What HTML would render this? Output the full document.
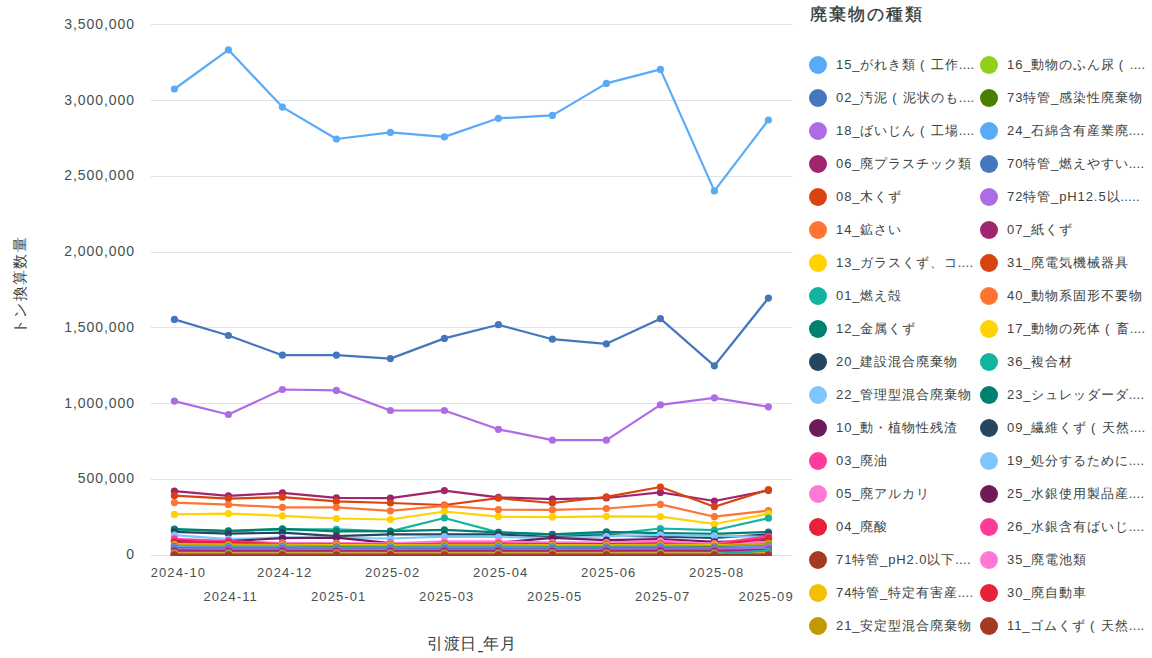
<!DOCTYPE html>
<html lang="ja"><head><meta charset="utf-8"><title>chart</title><style>
html,body{margin:0;padding:0;background:#fff;}
body{width:1152px;height:658px;overflow:hidden;position:relative;font-family:"Liberation Sans",sans-serif;color:#37403f;}
.yl{position:absolute;left:0;color:#474f4e;width:135.1px;text-align:right;font-size:14px;letter-spacing:0.95px;line-height:16px;white-space:nowrap;}
.xl{position:absolute;color:#474f4e;width:80px;text-align:center;font-size:13px;letter-spacing:1.1px;line-height:15px;white-space:nowrap;}
.lg{position:absolute;height:20px;white-space:nowrap;font-size:13px;line-height:20px;color:#3a4342;}
.lg i{position:absolute;left:0;top:1px;width:18px;height:18px;border-radius:50%;}
.lg span{position:absolute;left:27px;top:0;letter-spacing:0.9px;}
.lg b{display:inline-block;width:15px;font-weight:normal;text-indent:4px;}
.lg u{text-decoration:none;letter-spacing:0.3px;}
</style></head><body>
<svg width="1152" height="658" viewBox="0 0 1152 658" style="position:absolute;left:0;top:0">
<line x1="150.5" x2="792.5" y1="24.5" y2="24.5" stroke="#dfe6e7" stroke-width="1"/>
<line x1="150.5" x2="792.5" y1="100.5" y2="100.5" stroke="#dfe6e7" stroke-width="1"/>
<line x1="150.5" x2="792.5" y1="176.5" y2="176.5" stroke="#dfe6e7" stroke-width="1"/>
<line x1="150.5" x2="792.5" y1="252.5" y2="252.5" stroke="#dfe6e7" stroke-width="1"/>
<line x1="150.5" x2="792.5" y1="327.5" y2="327.5" stroke="#dfe6e7" stroke-width="1"/>
<line x1="150.5" x2="792.5" y1="403.5" y2="403.5" stroke="#dfe6e7" stroke-width="1"/>
<line x1="150.5" x2="792.5" y1="479.5" y2="479.5" stroke="#dfe6e7" stroke-width="1"/>
<line x1="150.5" x2="792.5" y1="555.5" y2="555.5" stroke="#dfe6e7" stroke-width="1"/>
<defs><clipPath id="cp"><rect x="140" y="0" width="670" height="556"/></clipPath></defs><g clip-path="url(#cp)">
<polyline points="174.4,89.0 228.4,49.8 282.4,107.1 336.4,139.0 390.4,132.4 444.4,136.9 498.4,118.3 552.4,115.4 606.4,83.4 660.4,69.4 714.4,190.9 768.4,120.0" fill="none" stroke="#59aaf7" stroke-width="2.2" stroke-linejoin="round"/><g fill="#59aaf7"><circle cx="174.4" cy="89.0" r="3.6"/><circle cx="228.4" cy="49.8" r="3.6"/><circle cx="282.4" cy="107.1" r="3.6"/><circle cx="336.4" cy="139.0" r="3.6"/><circle cx="390.4" cy="132.4" r="3.6"/><circle cx="444.4" cy="136.9" r="3.6"/><circle cx="498.4" cy="118.3" r="3.6"/><circle cx="552.4" cy="115.4" r="3.6"/><circle cx="606.4" cy="83.4" r="3.6"/><circle cx="660.4" cy="69.4" r="3.6"/><circle cx="714.4" cy="190.9" r="3.6"/><circle cx="768.4" cy="120.0" r="3.6"/></g>
<polyline points="174.4,319.4 228.4,335.5 282.4,355.2 336.4,355.2 390.4,358.6 444.4,338.4 498.4,324.7 552.4,339.2 606.4,343.8 660.4,318.7 714.4,365.8 768.4,298.1" fill="none" stroke="#4577be" stroke-width="2.2" stroke-linejoin="round"/><g fill="#4577be"><circle cx="174.4" cy="319.4" r="3.6"/><circle cx="228.4" cy="335.5" r="3.6"/><circle cx="282.4" cy="355.2" r="3.6"/><circle cx="336.4" cy="355.2" r="3.6"/><circle cx="390.4" cy="358.6" r="3.6"/><circle cx="444.4" cy="338.4" r="3.6"/><circle cx="498.4" cy="324.7" r="3.6"/><circle cx="552.4" cy="339.2" r="3.6"/><circle cx="606.4" cy="343.8" r="3.6"/><circle cx="660.4" cy="318.7" r="3.6"/><circle cx="714.4" cy="365.8" r="3.6"/><circle cx="768.4" cy="298.1" r="3.6"/></g>
<polyline points="174.4,401.1 228.4,414.5 282.4,389.5 336.4,390.4 390.4,410.5 444.4,410.5 498.4,429.3 552.4,440.2 606.4,440.2 660.4,404.8 714.4,397.8 768.4,406.8" fill="none" stroke="#ae6be6" stroke-width="2.2" stroke-linejoin="round"/><g fill="#ae6be6"><circle cx="174.4" cy="401.1" r="3.6"/><circle cx="228.4" cy="414.5" r="3.6"/><circle cx="282.4" cy="389.5" r="3.6"/><circle cx="336.4" cy="390.4" r="3.6"/><circle cx="390.4" cy="410.5" r="3.6"/><circle cx="444.4" cy="410.5" r="3.6"/><circle cx="498.4" cy="429.3" r="3.6"/><circle cx="552.4" cy="440.2" r="3.6"/><circle cx="606.4" cy="440.2" r="3.6"/><circle cx="660.4" cy="404.8" r="3.6"/><circle cx="714.4" cy="397.8" r="3.6"/><circle cx="768.4" cy="406.8" r="3.6"/></g>
<polyline points="174.4,491.2 228.4,495.9 282.4,492.9 336.4,497.8 390.4,498.2 444.4,490.7 498.4,497.4 552.4,499.2 606.4,498.0 660.4,492.4 714.4,501.0 768.4,490.5" fill="none" stroke="#a0246e" stroke-width="2.2" stroke-linejoin="round"/><g fill="#a0246e"><circle cx="174.4" cy="491.2" r="3.6"/><circle cx="228.4" cy="495.9" r="3.6"/><circle cx="282.4" cy="492.9" r="3.6"/><circle cx="336.4" cy="497.8" r="3.6"/><circle cx="390.4" cy="498.2" r="3.6"/><circle cx="444.4" cy="490.7" r="3.6"/><circle cx="498.4" cy="497.4" r="3.6"/><circle cx="552.4" cy="499.2" r="3.6"/><circle cx="606.4" cy="498.0" r="3.6"/><circle cx="660.4" cy="492.4" r="3.6"/><circle cx="714.4" cy="501.0" r="3.6"/><circle cx="768.4" cy="490.5" r="3.6"/></g>
<polyline points="174.4,495.7 228.4,498.6 282.4,497.2 336.4,501.4 390.4,503.0 444.4,505.0 498.4,498.2 552.4,503.0 606.4,496.9 660.4,487.0 714.4,506.7 768.4,489.6" fill="none" stroke="#d9430f" stroke-width="2.2" stroke-linejoin="round"/><g fill="#d9430f"><circle cx="174.4" cy="495.7" r="3.6"/><circle cx="228.4" cy="498.6" r="3.6"/><circle cx="282.4" cy="497.2" r="3.6"/><circle cx="336.4" cy="501.4" r="3.6"/><circle cx="390.4" cy="503.0" r="3.6"/><circle cx="444.4" cy="505.0" r="3.6"/><circle cx="498.4" cy="498.2" r="3.6"/><circle cx="552.4" cy="503.0" r="3.6"/><circle cx="606.4" cy="496.9" r="3.6"/><circle cx="660.4" cy="487.0" r="3.6"/><circle cx="714.4" cy="506.7" r="3.6"/><circle cx="768.4" cy="489.6" r="3.6"/></g>
<polyline points="174.4,502.6 228.4,504.7 282.4,507.3 336.4,507.4 390.4,510.8 444.4,505.8 498.4,509.7 552.4,509.9 606.4,508.5 660.4,504.4 714.4,516.7 768.4,510.6" fill="none" stroke="#ff7433" stroke-width="2.2" stroke-linejoin="round"/><g fill="#ff7433"><circle cx="174.4" cy="502.6" r="3.6"/><circle cx="228.4" cy="504.7" r="3.6"/><circle cx="282.4" cy="507.3" r="3.6"/><circle cx="336.4" cy="507.4" r="3.6"/><circle cx="390.4" cy="510.8" r="3.6"/><circle cx="444.4" cy="505.8" r="3.6"/><circle cx="498.4" cy="509.7" r="3.6"/><circle cx="552.4" cy="509.9" r="3.6"/><circle cx="606.4" cy="508.5" r="3.6"/><circle cx="660.4" cy="504.4" r="3.6"/><circle cx="714.4" cy="516.7" r="3.6"/><circle cx="768.4" cy="510.6" r="3.6"/></g>
<polyline points="174.4,514.4 228.4,513.6 282.4,515.8 336.4,518.5 390.4,519.5 444.4,511.5 498.4,516.7 552.4,517.1 606.4,516.3 660.4,516.7 714.4,524.0 768.4,513.7" fill="none" stroke="#ffd200" stroke-width="2.2" stroke-linejoin="round"/><g fill="#ffd200"><circle cx="174.4" cy="514.4" r="3.6"/><circle cx="228.4" cy="513.6" r="3.6"/><circle cx="282.4" cy="515.8" r="3.6"/><circle cx="336.4" cy="518.5" r="3.6"/><circle cx="390.4" cy="519.5" r="3.6"/><circle cx="444.4" cy="511.5" r="3.6"/><circle cx="498.4" cy="516.7" r="3.6"/><circle cx="552.4" cy="517.1" r="3.6"/><circle cx="606.4" cy="516.3" r="3.6"/><circle cx="660.4" cy="516.7" r="3.6"/><circle cx="714.4" cy="524.0" r="3.6"/><circle cx="768.4" cy="513.7" r="3.6"/></g>
<polyline points="174.4,529.6 228.4,531.4 282.4,529.4 336.4,529.4 390.4,531.4 444.4,518.0 498.4,532.4 552.4,534.3 606.4,534.4 660.4,528.5 714.4,530.2 768.4,518.2" fill="none" stroke="#12b4a0" stroke-width="2.2" stroke-linejoin="round"/><g fill="#12b4a0"><circle cx="174.4" cy="529.6" r="3.6"/><circle cx="228.4" cy="531.4" r="3.6"/><circle cx="282.4" cy="529.4" r="3.6"/><circle cx="336.4" cy="529.4" r="3.6"/><circle cx="390.4" cy="531.4" r="3.6"/><circle cx="444.4" cy="518.0" r="3.6"/><circle cx="498.4" cy="532.4" r="3.6"/><circle cx="552.4" cy="534.3" r="3.6"/><circle cx="606.4" cy="534.4" r="3.6"/><circle cx="660.4" cy="528.5" r="3.6"/><circle cx="714.4" cy="530.2" r="3.6"/><circle cx="768.4" cy="518.2" r="3.6"/></g>
<polyline points="174.4,529.0 228.4,530.9 282.4,528.8 336.4,531.4 390.4,531.2 444.4,529.9 498.4,532.3 552.4,534.4 606.4,531.8 660.4,533.1 714.4,533.8 768.4,532.0" fill="none" stroke="#00806e" stroke-width="2.2" stroke-linejoin="round"/><g fill="#00806e"><circle cx="174.4" cy="529.0" r="3.6"/><circle cx="228.4" cy="530.9" r="3.6"/><circle cx="282.4" cy="528.8" r="3.6"/><circle cx="336.4" cy="531.4" r="3.6"/><circle cx="390.4" cy="531.2" r="3.6"/><circle cx="444.4" cy="529.9" r="3.6"/><circle cx="498.4" cy="532.3" r="3.6"/><circle cx="552.4" cy="534.4" r="3.6"/><circle cx="606.4" cy="531.8" r="3.6"/><circle cx="660.4" cy="533.1" r="3.6"/><circle cx="714.4" cy="533.8" r="3.6"/><circle cx="768.4" cy="532.0" r="3.6"/></g>
<polyline points="174.4,531.8 228.4,533.7 282.4,532.7 336.4,536.1 390.4,534.3 444.4,534.4 498.4,534.4 552.4,537.1 606.4,535.4 660.4,536.6 714.4,538.0 768.4,534.4" fill="none" stroke="#254660" stroke-width="2.2" stroke-linejoin="round"/><g fill="#254660"><circle cx="174.4" cy="531.8" r="3.6"/><circle cx="228.4" cy="533.7" r="3.6"/><circle cx="282.4" cy="532.7" r="3.6"/><circle cx="336.4" cy="536.1" r="3.6"/><circle cx="390.4" cy="534.3" r="3.6"/><circle cx="444.4" cy="534.4" r="3.6"/><circle cx="498.4" cy="534.4" r="3.6"/><circle cx="552.4" cy="537.1" r="3.6"/><circle cx="606.4" cy="535.4" r="3.6"/><circle cx="660.4" cy="536.6" r="3.6"/><circle cx="714.4" cy="538.0" r="3.6"/><circle cx="768.4" cy="534.4" r="3.6"/></g>
<polyline points="174.4,535.2 228.4,539.2 282.4,537.4 336.4,537.8 390.4,538.5 444.4,536.6 498.4,537.0 552.4,538.2 606.4,536.4 660.4,534.9 714.4,535.8 768.4,537.0" fill="none" stroke="#7fc6ff" stroke-width="2.2" stroke-linejoin="round"/><g fill="#7fc6ff"><circle cx="174.4" cy="535.2" r="3.6"/><circle cx="228.4" cy="539.2" r="3.6"/><circle cx="282.4" cy="537.4" r="3.6"/><circle cx="336.4" cy="537.8" r="3.6"/><circle cx="390.4" cy="538.5" r="3.6"/><circle cx="444.4" cy="536.6" r="3.6"/><circle cx="498.4" cy="537.0" r="3.6"/><circle cx="552.4" cy="538.2" r="3.6"/><circle cx="606.4" cy="536.4" r="3.6"/><circle cx="660.4" cy="534.9" r="3.6"/><circle cx="714.4" cy="535.8" r="3.6"/><circle cx="768.4" cy="537.0" r="3.6"/></g>
<polyline points="174.4,540.8 228.4,541.2 282.4,538.1 336.4,537.7 390.4,543.2 444.4,543.2 498.4,542.8 552.4,537.8 606.4,540.2 660.4,539.1 714.4,541.9 768.4,541.0" fill="none" stroke="#6e1b58" stroke-width="2.2" stroke-linejoin="round"/><g fill="#6e1b58"><circle cx="174.4" cy="540.8" r="3.6"/><circle cx="228.4" cy="541.2" r="3.6"/><circle cx="282.4" cy="538.1" r="3.6"/><circle cx="336.4" cy="537.7" r="3.6"/><circle cx="390.4" cy="543.2" r="3.6"/><circle cx="444.4" cy="543.2" r="3.6"/><circle cx="498.4" cy="542.8" r="3.6"/><circle cx="552.4" cy="537.8" r="3.6"/><circle cx="606.4" cy="540.2" r="3.6"/><circle cx="660.4" cy="539.1" r="3.6"/><circle cx="714.4" cy="541.9" r="3.6"/><circle cx="768.4" cy="541.0" r="3.6"/></g>
<polyline points="174.4,538.8 228.4,541.1 282.4,543.4 336.4,544.4 390.4,543.8 444.4,543.2 498.4,542.3 552.4,542.8 606.4,542.8 660.4,541.8 714.4,543.6 768.4,536.3" fill="none" stroke="#ff3b9a" stroke-width="2.2" stroke-linejoin="round"/><g fill="#ff3b9a"><circle cx="174.4" cy="538.8" r="3.6"/><circle cx="228.4" cy="541.1" r="3.6"/><circle cx="282.4" cy="543.4" r="3.6"/><circle cx="336.4" cy="544.4" r="3.6"/><circle cx="390.4" cy="543.8" r="3.6"/><circle cx="444.4" cy="543.2" r="3.6"/><circle cx="498.4" cy="542.3" r="3.6"/><circle cx="552.4" cy="542.8" r="3.6"/><circle cx="606.4" cy="542.8" r="3.6"/><circle cx="660.4" cy="541.8" r="3.6"/><circle cx="714.4" cy="543.6" r="3.6"/><circle cx="768.4" cy="536.3" r="3.6"/></g>
<polyline points="174.4,543.0 228.4,543.0 282.4,542.8 336.4,543.2 390.4,543.4 444.4,541.4 498.4,541.4 552.4,542.6 606.4,542.6 660.4,540.8 714.4,543.8 768.4,541.8" fill="none" stroke="#ff78d6" stroke-width="2.2" stroke-linejoin="round"/><g fill="#ff78d6"><circle cx="174.4" cy="543.0" r="3.6"/><circle cx="228.4" cy="543.0" r="3.6"/><circle cx="282.4" cy="542.8" r="3.6"/><circle cx="336.4" cy="543.2" r="3.6"/><circle cx="390.4" cy="543.4" r="3.6"/><circle cx="444.4" cy="541.4" r="3.6"/><circle cx="498.4" cy="541.4" r="3.6"/><circle cx="552.4" cy="542.6" r="3.6"/><circle cx="606.4" cy="542.6" r="3.6"/><circle cx="660.4" cy="540.8" r="3.6"/><circle cx="714.4" cy="543.8" r="3.6"/><circle cx="768.4" cy="541.8" r="3.6"/></g>
<polyline points="174.4,541.9 228.4,542.3 282.4,544.0 336.4,544.4 390.4,544.6 444.4,543.8 498.4,543.8 552.4,544.2 606.4,544.2 660.4,543.8 714.4,545.2 768.4,538.4" fill="none" stroke="#e8213a" stroke-width="2.2" stroke-linejoin="round"/><g fill="#e8213a"><circle cx="174.4" cy="541.9" r="3.6"/><circle cx="228.4" cy="542.3" r="3.6"/><circle cx="282.4" cy="544.0" r="3.6"/><circle cx="336.4" cy="544.4" r="3.6"/><circle cx="390.4" cy="544.6" r="3.6"/><circle cx="444.4" cy="543.8" r="3.6"/><circle cx="498.4" cy="543.8" r="3.6"/><circle cx="552.4" cy="544.2" r="3.6"/><circle cx="606.4" cy="544.2" r="3.6"/><circle cx="660.4" cy="543.8" r="3.6"/><circle cx="714.4" cy="545.2" r="3.6"/><circle cx="768.4" cy="538.4" r="3.6"/></g>
<polyline points="174.4,554.0 228.4,554.0 282.4,554.0 336.4,554.0 390.4,554.0 444.4,554.0 498.4,554.0 552.4,554.0 606.4,554.0 660.4,554.0 714.4,554.0 768.4,554.0" fill="none" stroke="#a33a24" stroke-width="2.2" stroke-linejoin="round"/><g fill="#a33a24"><circle cx="174.4" cy="554.0" r="3.6"/><circle cx="228.4" cy="554.0" r="3.6"/><circle cx="282.4" cy="554.0" r="3.6"/><circle cx="336.4" cy="554.0" r="3.6"/><circle cx="390.4" cy="554.0" r="3.6"/><circle cx="444.4" cy="554.0" r="3.6"/><circle cx="498.4" cy="554.0" r="3.6"/><circle cx="552.4" cy="554.0" r="3.6"/><circle cx="606.4" cy="554.0" r="3.6"/><circle cx="660.4" cy="554.0" r="3.6"/><circle cx="714.4" cy="554.0" r="3.6"/><circle cx="768.4" cy="554.0" r="3.6"/></g>
<polyline points="174.4,544.6 228.4,544.8 282.4,544.8 336.4,545.2 390.4,545.0 444.4,544.8 498.4,544.8 552.4,545.0 606.4,545.0 660.4,544.8 714.4,545.2 768.4,543.6" fill="none" stroke="#f2c000" stroke-width="2.2" stroke-linejoin="round"/><g fill="#f2c000"><circle cx="174.4" cy="544.6" r="3.6"/><circle cx="228.4" cy="544.8" r="3.6"/><circle cx="282.4" cy="544.8" r="3.6"/><circle cx="336.4" cy="545.2" r="3.6"/><circle cx="390.4" cy="545.0" r="3.6"/><circle cx="444.4" cy="544.8" r="3.6"/><circle cx="498.4" cy="544.8" r="3.6"/><circle cx="552.4" cy="545.0" r="3.6"/><circle cx="606.4" cy="545.0" r="3.6"/><circle cx="660.4" cy="544.8" r="3.6"/><circle cx="714.4" cy="545.2" r="3.6"/><circle cx="768.4" cy="543.6" r="3.6"/></g>
<polyline points="174.4,545.4 228.4,545.6 282.4,545.6 336.4,546.0 390.4,545.8 444.4,545.6 498.4,545.6 552.4,545.8 606.4,545.8 660.4,545.6 714.4,546.0 768.4,543.8" fill="none" stroke="#c29a00" stroke-width="2.2" stroke-linejoin="round"/><g fill="#c29a00"><circle cx="174.4" cy="545.4" r="3.6"/><circle cx="228.4" cy="545.6" r="3.6"/><circle cx="282.4" cy="545.6" r="3.6"/><circle cx="336.4" cy="546.0" r="3.6"/><circle cx="390.4" cy="545.8" r="3.6"/><circle cx="444.4" cy="545.6" r="3.6"/><circle cx="498.4" cy="545.6" r="3.6"/><circle cx="552.4" cy="545.8" r="3.6"/><circle cx="606.4" cy="545.8" r="3.6"/><circle cx="660.4" cy="545.6" r="3.6"/><circle cx="714.4" cy="546.0" r="3.6"/><circle cx="768.4" cy="543.8" r="3.6"/></g>
<polyline points="174.4,546.0 228.4,546.2 282.4,546.2 336.4,546.6 390.4,546.4 444.4,546.2 498.4,546.2 552.4,546.4 606.4,546.4 660.4,546.2 714.4,546.6 768.4,545.6" fill="none" stroke="#8fd11a" stroke-width="2.2" stroke-linejoin="round"/><g fill="#8fd11a"><circle cx="174.4" cy="546.0" r="3.6"/><circle cx="228.4" cy="546.2" r="3.6"/><circle cx="282.4" cy="546.2" r="3.6"/><circle cx="336.4" cy="546.6" r="3.6"/><circle cx="390.4" cy="546.4" r="3.6"/><circle cx="444.4" cy="546.2" r="3.6"/><circle cx="498.4" cy="546.2" r="3.6"/><circle cx="552.4" cy="546.4" r="3.6"/><circle cx="606.4" cy="546.4" r="3.6"/><circle cx="660.4" cy="546.2" r="3.6"/><circle cx="714.4" cy="546.6" r="3.6"/><circle cx="768.4" cy="545.6" r="3.6"/></g>
<polyline points="174.4,546.6 228.4,546.8 282.4,546.8 336.4,547.2 390.4,547.0 444.4,546.8 498.4,546.8 552.4,547.0 606.4,547.0 660.4,546.8 714.4,547.2 768.4,546.2" fill="none" stroke="#4a7e00" stroke-width="2.2" stroke-linejoin="round"/><g fill="#4a7e00"><circle cx="174.4" cy="546.6" r="3.6"/><circle cx="228.4" cy="546.8" r="3.6"/><circle cx="282.4" cy="546.8" r="3.6"/><circle cx="336.4" cy="547.2" r="3.6"/><circle cx="390.4" cy="547.0" r="3.6"/><circle cx="444.4" cy="546.8" r="3.6"/><circle cx="498.4" cy="546.8" r="3.6"/><circle cx="552.4" cy="547.0" r="3.6"/><circle cx="606.4" cy="547.0" r="3.6"/><circle cx="660.4" cy="546.8" r="3.6"/><circle cx="714.4" cy="547.2" r="3.6"/><circle cx="768.4" cy="546.2" r="3.6"/></g>
<polyline points="174.4,547.2 228.4,547.4 282.4,547.4 336.4,547.8 390.4,547.6 444.4,547.4 498.4,547.4 552.4,547.6 606.4,547.6 660.4,547.4 714.4,547.8 768.4,546.6" fill="none" stroke="#59aaf7" stroke-width="2.2" stroke-linejoin="round"/><g fill="#59aaf7"><circle cx="174.4" cy="547.2" r="3.6"/><circle cx="228.4" cy="547.4" r="3.6"/><circle cx="282.4" cy="547.4" r="3.6"/><circle cx="336.4" cy="547.8" r="3.6"/><circle cx="390.4" cy="547.6" r="3.6"/><circle cx="444.4" cy="547.4" r="3.6"/><circle cx="498.4" cy="547.4" r="3.6"/><circle cx="552.4" cy="547.6" r="3.6"/><circle cx="606.4" cy="547.6" r="3.6"/><circle cx="660.4" cy="547.4" r="3.6"/><circle cx="714.4" cy="547.8" r="3.6"/><circle cx="768.4" cy="546.6" r="3.6"/></g>
<polyline points="174.4,548.2 228.4,548.4 282.4,548.4 336.4,548.8 390.4,548.6 444.4,548.6 498.4,548.6 552.4,548.6 606.4,548.4 660.4,548.2 714.4,548.6 768.4,547.4" fill="none" stroke="#4577be" stroke-width="2.2" stroke-linejoin="round"/><g fill="#4577be"><circle cx="174.4" cy="548.2" r="3.6"/><circle cx="228.4" cy="548.4" r="3.6"/><circle cx="282.4" cy="548.4" r="3.6"/><circle cx="336.4" cy="548.8" r="3.6"/><circle cx="390.4" cy="548.6" r="3.6"/><circle cx="444.4" cy="548.6" r="3.6"/><circle cx="498.4" cy="548.6" r="3.6"/><circle cx="552.4" cy="548.6" r="3.6"/><circle cx="606.4" cy="548.4" r="3.6"/><circle cx="660.4" cy="548.2" r="3.6"/><circle cx="714.4" cy="548.6" r="3.6"/><circle cx="768.4" cy="547.4" r="3.6"/></g>
<polyline points="174.4,549.4 228.4,549.6 282.4,549.6 336.4,549.8 390.4,549.8 444.4,549.8 498.4,549.8 552.4,549.8 606.4,549.6 660.4,549.4 714.4,549.6 768.4,547.1" fill="none" stroke="#ae6be6" stroke-width="2.2" stroke-linejoin="round"/><g fill="#ae6be6"><circle cx="174.4" cy="549.4" r="3.6"/><circle cx="228.4" cy="549.6" r="3.6"/><circle cx="282.4" cy="549.6" r="3.6"/><circle cx="336.4" cy="549.8" r="3.6"/><circle cx="390.4" cy="549.8" r="3.6"/><circle cx="444.4" cy="549.8" r="3.6"/><circle cx="498.4" cy="549.8" r="3.6"/><circle cx="552.4" cy="549.8" r="3.6"/><circle cx="606.4" cy="549.6" r="3.6"/><circle cx="660.4" cy="549.4" r="3.6"/><circle cx="714.4" cy="549.6" r="3.6"/><circle cx="768.4" cy="547.1" r="3.6"/></g>
<polyline points="174.4,550.6 228.4,550.8 282.4,550.8 336.4,551.0 390.4,551.0 444.4,550.8 498.4,550.8 552.4,551.0 606.4,550.8 660.4,550.6 714.4,550.8 768.4,549.8" fill="none" stroke="#a0246e" stroke-width="2.2" stroke-linejoin="round"/><g fill="#a0246e"><circle cx="174.4" cy="550.6" r="3.6"/><circle cx="228.4" cy="550.8" r="3.6"/><circle cx="282.4" cy="550.8" r="3.6"/><circle cx="336.4" cy="551.0" r="3.6"/><circle cx="390.4" cy="551.0" r="3.6"/><circle cx="444.4" cy="550.8" r="3.6"/><circle cx="498.4" cy="550.8" r="3.6"/><circle cx="552.4" cy="551.0" r="3.6"/><circle cx="606.4" cy="550.8" r="3.6"/><circle cx="660.4" cy="550.6" r="3.6"/><circle cx="714.4" cy="550.8" r="3.6"/><circle cx="768.4" cy="549.8" r="3.6"/></g>
<polyline points="174.4,552.2 228.4,552.3 282.4,552.3 336.4,552.4 390.4,552.4 444.4,552.4 498.4,552.4 552.4,552.4 606.4,552.3 660.4,552.2 714.4,552.4 768.4,551.8" fill="none" stroke="#d9430f" stroke-width="2.2" stroke-linejoin="round"/><g fill="#d9430f"><circle cx="174.4" cy="552.2" r="3.6"/><circle cx="228.4" cy="552.3" r="3.6"/><circle cx="282.4" cy="552.3" r="3.6"/><circle cx="336.4" cy="552.4" r="3.6"/><circle cx="390.4" cy="552.4" r="3.6"/><circle cx="444.4" cy="552.4" r="3.6"/><circle cx="498.4" cy="552.4" r="3.6"/><circle cx="552.4" cy="552.4" r="3.6"/><circle cx="606.4" cy="552.3" r="3.6"/><circle cx="660.4" cy="552.2" r="3.6"/><circle cx="714.4" cy="552.4" r="3.6"/><circle cx="768.4" cy="551.8" r="3.6"/></g>
<polyline points="174.4,553.0 228.4,553.0 282.4,553.0 336.4,553.0 390.4,553.0 444.4,553.0 498.4,553.0 552.4,553.0 606.4,553.0 660.4,553.0 714.4,553.0 768.4,553.0" fill="none" stroke="#ff7433" stroke-width="2.2" stroke-linejoin="round"/><g fill="#ff7433"><circle cx="174.4" cy="553.0" r="3.6"/><circle cx="228.4" cy="553.0" r="3.6"/><circle cx="282.4" cy="553.0" r="3.6"/><circle cx="336.4" cy="553.0" r="3.6"/><circle cx="390.4" cy="553.0" r="3.6"/><circle cx="444.4" cy="553.0" r="3.6"/><circle cx="498.4" cy="553.0" r="3.6"/><circle cx="552.4" cy="553.0" r="3.6"/><circle cx="606.4" cy="553.0" r="3.6"/><circle cx="660.4" cy="553.0" r="3.6"/><circle cx="714.4" cy="553.0" r="3.6"/><circle cx="768.4" cy="553.0" r="3.6"/></g>
<polyline points="174.4,553.6 228.4,553.6 282.4,553.6 336.4,553.6 390.4,553.6 444.4,553.6 498.4,553.6 552.4,553.6 606.4,553.6 660.4,553.6 714.4,553.6 768.4,553.6" fill="none" stroke="#ffd200" stroke-width="2.2" stroke-linejoin="round"/><g fill="#ffd200"><circle cx="174.4" cy="553.6" r="3.6"/><circle cx="228.4" cy="553.6" r="3.6"/><circle cx="282.4" cy="553.6" r="3.6"/><circle cx="336.4" cy="553.6" r="3.6"/><circle cx="390.4" cy="553.6" r="3.6"/><circle cx="444.4" cy="553.6" r="3.6"/><circle cx="498.4" cy="553.6" r="3.6"/><circle cx="552.4" cy="553.6" r="3.6"/><circle cx="606.4" cy="553.6" r="3.6"/><circle cx="660.4" cy="553.6" r="3.6"/><circle cx="714.4" cy="553.6" r="3.6"/><circle cx="768.4" cy="553.6" r="3.6"/></g>
<polyline points="174.4,553.8 228.4,553.8 282.4,553.8 336.4,553.8 390.4,553.8 444.4,553.8 498.4,553.8 552.4,553.8 606.4,553.8 660.4,553.8 714.4,553.8 768.4,550.6" fill="none" stroke="#12b4a0" stroke-width="2.2" stroke-linejoin="round"/><g fill="#12b4a0"><circle cx="174.4" cy="553.8" r="3.6"/><circle cx="228.4" cy="553.8" r="3.6"/><circle cx="282.4" cy="553.8" r="3.6"/><circle cx="336.4" cy="553.8" r="3.6"/><circle cx="390.4" cy="553.8" r="3.6"/><circle cx="444.4" cy="553.8" r="3.6"/><circle cx="498.4" cy="553.8" r="3.6"/><circle cx="552.4" cy="553.8" r="3.6"/><circle cx="606.4" cy="553.8" r="3.6"/><circle cx="660.4" cy="553.8" r="3.6"/><circle cx="714.4" cy="553.8" r="3.6"/><circle cx="768.4" cy="550.6" r="3.6"/></g>
<polyline points="174.4,554.6 228.4,554.6 282.4,554.6 336.4,554.6 390.4,554.6 444.4,554.6 498.4,554.6 552.4,554.6 606.4,554.6 660.4,554.6 714.4,554.6 768.4,554.6" fill="none" stroke="#00806e" stroke-width="2.2" stroke-linejoin="round"/><g fill="#00806e"><circle cx="174.4" cy="554.6" r="3.6"/><circle cx="228.4" cy="554.6" r="3.6"/><circle cx="282.4" cy="554.6" r="3.6"/><circle cx="336.4" cy="554.6" r="3.6"/><circle cx="390.4" cy="554.6" r="3.6"/><circle cx="444.4" cy="554.6" r="3.6"/><circle cx="498.4" cy="554.6" r="3.6"/><circle cx="552.4" cy="554.6" r="3.6"/><circle cx="606.4" cy="554.6" r="3.6"/><circle cx="660.4" cy="554.6" r="3.6"/><circle cx="714.4" cy="554.6" r="3.6"/><circle cx="768.4" cy="554.6" r="3.6"/></g>
<polyline points="174.4,554.6 228.4,554.6 282.4,554.6 336.4,554.6 390.4,554.6 444.4,554.6 498.4,554.6 552.4,554.6 606.4,554.6 660.4,554.6 714.4,554.6 768.4,554.6" fill="none" stroke="#254660" stroke-width="2.2" stroke-linejoin="round"/><g fill="#254660"><circle cx="174.4" cy="554.6" r="3.6"/><circle cx="228.4" cy="554.6" r="3.6"/><circle cx="282.4" cy="554.6" r="3.6"/><circle cx="336.4" cy="554.6" r="3.6"/><circle cx="390.4" cy="554.6" r="3.6"/><circle cx="444.4" cy="554.6" r="3.6"/><circle cx="498.4" cy="554.6" r="3.6"/><circle cx="552.4" cy="554.6" r="3.6"/><circle cx="606.4" cy="554.6" r="3.6"/><circle cx="660.4" cy="554.6" r="3.6"/><circle cx="714.4" cy="554.6" r="3.6"/><circle cx="768.4" cy="554.6" r="3.6"/></g>
<polyline points="174.4,554.7 228.4,554.7 282.4,554.7 336.4,554.7 390.4,554.7 444.4,554.7 498.4,554.7 552.4,554.7 606.4,554.7 660.4,554.7 714.4,554.7 768.4,554.7" fill="none" stroke="#7fc6ff" stroke-width="2.2" stroke-linejoin="round"/><g fill="#7fc6ff"><circle cx="174.4" cy="554.7" r="3.6"/><circle cx="228.4" cy="554.7" r="3.6"/><circle cx="282.4" cy="554.7" r="3.6"/><circle cx="336.4" cy="554.7" r="3.6"/><circle cx="390.4" cy="554.7" r="3.6"/><circle cx="444.4" cy="554.7" r="3.6"/><circle cx="498.4" cy="554.7" r="3.6"/><circle cx="552.4" cy="554.7" r="3.6"/><circle cx="606.4" cy="554.7" r="3.6"/><circle cx="660.4" cy="554.7" r="3.6"/><circle cx="714.4" cy="554.7" r="3.6"/><circle cx="768.4" cy="554.7" r="3.6"/></g>
<polyline points="174.4,554.8 228.4,554.8 282.4,554.8 336.4,554.8 390.4,554.8 444.4,554.8 498.4,554.8 552.4,554.8 606.4,554.8 660.4,554.8 714.4,554.8 768.4,554.8" fill="none" stroke="#6e1b58" stroke-width="2.2" stroke-linejoin="round"/><g fill="#6e1b58"><circle cx="174.4" cy="554.8" r="3.6"/><circle cx="228.4" cy="554.8" r="3.6"/><circle cx="282.4" cy="554.8" r="3.6"/><circle cx="336.4" cy="554.8" r="3.6"/><circle cx="390.4" cy="554.8" r="3.6"/><circle cx="444.4" cy="554.8" r="3.6"/><circle cx="498.4" cy="554.8" r="3.6"/><circle cx="552.4" cy="554.8" r="3.6"/><circle cx="606.4" cy="554.8" r="3.6"/><circle cx="660.4" cy="554.8" r="3.6"/><circle cx="714.4" cy="554.8" r="3.6"/><circle cx="768.4" cy="554.8" r="3.6"/></g>
<polyline points="174.4,554.0 228.4,554.0 282.4,554.0 336.4,554.0 390.4,554.0 444.4,554.0 498.4,554.0 552.4,554.0 606.4,554.0 660.4,554.0 714.4,554.0 768.4,554.0" fill="none" stroke="#ff3b9a" stroke-width="2.2" stroke-linejoin="round"/><g fill="#ff3b9a"><circle cx="174.4" cy="554.0" r="3.6"/><circle cx="228.4" cy="554.0" r="3.6"/><circle cx="282.4" cy="554.0" r="3.6"/><circle cx="336.4" cy="554.0" r="3.6"/><circle cx="390.4" cy="554.0" r="3.6"/><circle cx="444.4" cy="554.0" r="3.6"/><circle cx="498.4" cy="554.0" r="3.6"/><circle cx="552.4" cy="554.0" r="3.6"/><circle cx="606.4" cy="554.0" r="3.6"/><circle cx="660.4" cy="554.0" r="3.6"/><circle cx="714.4" cy="554.0" r="3.6"/><circle cx="768.4" cy="554.0" r="3.6"/></g>
<polyline points="174.4,554.8 228.4,554.8 282.4,554.8 336.4,554.8 390.4,554.8 444.4,554.8 498.4,554.8 552.4,554.8 606.4,554.8 660.4,554.8 714.4,554.8 768.4,554.8" fill="none" stroke="#ff78d6" stroke-width="2.2" stroke-linejoin="round"/><g fill="#ff78d6"><circle cx="174.4" cy="554.8" r="3.6"/><circle cx="228.4" cy="554.8" r="3.6"/><circle cx="282.4" cy="554.8" r="3.6"/><circle cx="336.4" cy="554.8" r="3.6"/><circle cx="390.4" cy="554.8" r="3.6"/><circle cx="444.4" cy="554.8" r="3.6"/><circle cx="498.4" cy="554.8" r="3.6"/><circle cx="552.4" cy="554.8" r="3.6"/><circle cx="606.4" cy="554.8" r="3.6"/><circle cx="660.4" cy="554.8" r="3.6"/><circle cx="714.4" cy="554.8" r="3.6"/><circle cx="768.4" cy="554.8" r="3.6"/></g>
<polyline points="174.4,554.9 228.4,554.9 282.4,554.9 336.4,554.9 390.4,554.9 444.4,554.9 498.4,554.9 552.4,554.9 606.4,554.9 660.4,554.9 714.4,554.9 768.4,554.9" fill="none" stroke="#e8213a" stroke-width="2.2" stroke-linejoin="round"/><g fill="#e8213a"><circle cx="174.4" cy="554.9" r="3.6"/><circle cx="228.4" cy="554.9" r="3.6"/><circle cx="282.4" cy="554.9" r="3.6"/><circle cx="336.4" cy="554.9" r="3.6"/><circle cx="390.4" cy="554.9" r="3.6"/><circle cx="444.4" cy="554.9" r="3.6"/><circle cx="498.4" cy="554.9" r="3.6"/><circle cx="552.4" cy="554.9" r="3.6"/><circle cx="606.4" cy="554.9" r="3.6"/><circle cx="660.4" cy="554.9" r="3.6"/><circle cx="714.4" cy="554.9" r="3.6"/><circle cx="768.4" cy="554.9" r="3.6"/></g>
<polyline points="174.4,555.0 228.4,555.0 282.4,555.0 336.4,555.0 390.4,555.0 444.4,555.0 498.4,555.0 552.4,555.0 606.4,555.0 660.4,555.0 714.4,555.0 768.4,555.0" fill="none" stroke="#a33a24" stroke-width="2.2" stroke-linejoin="round"/><g fill="#a33a24"><circle cx="174.4" cy="555.0" r="3.6"/><circle cx="228.4" cy="555.0" r="3.6"/><circle cx="282.4" cy="555.0" r="3.6"/><circle cx="336.4" cy="555.0" r="3.6"/><circle cx="390.4" cy="555.0" r="3.6"/><circle cx="444.4" cy="555.0" r="3.6"/><circle cx="498.4" cy="555.0" r="3.6"/><circle cx="552.4" cy="555.0" r="3.6"/><circle cx="606.4" cy="555.0" r="3.6"/><circle cx="660.4" cy="555.0" r="3.6"/><circle cx="714.4" cy="555.0" r="3.6"/><circle cx="768.4" cy="555.0" r="3.6"/></g>
</g>
</svg>
<div class="yl" style="top:16px">3,500,000</div>
<div class="yl" style="top:92px">3,000,000</div>
<div class="yl" style="top:167px">2,500,000</div>
<div class="yl" style="top:243px">2,000,000</div>
<div class="yl" style="top:319px">1,500,000</div>
<div class="yl" style="top:395px">1,000,000</div>
<div class="yl" style="top:470px">500,000</div>
<div class="yl" style="top:546px">0</div>
<div class="xl" style="left:138.4px;top:565px">2024-10</div>
<div class="xl" style="left:190.7px;top:589px">2024-11</div>
<div class="xl" style="left:244.7px;top:565px">2024-12</div>
<div class="xl" style="left:298.7px;top:589px">2025-01</div>
<div class="xl" style="left:352.7px;top:565px">2025-02</div>
<div class="xl" style="left:406.7px;top:589px">2025-03</div>
<div class="xl" style="left:460.7px;top:565px">2025-04</div>
<div class="xl" style="left:514.7px;top:589px">2025-05</div>
<div class="xl" style="left:568.7px;top:565px">2025-06</div>
<div class="xl" style="left:622.7px;top:589px">2025-07</div>
<div class="xl" style="left:676.7px;top:565px">2025-08</div>
<div class="xl" style="left:726.1px;top:589px">2025-09</div>
<div style="position:absolute;left:427px;top:635px;font-size:16px;line-height:18px;white-space:nowrap;letter-spacing:0.7px">引渡日<span style="display:inline-block;width:5.5px;overflow:hidden;vertical-align:top;margin:0 0 0 0.5px">_</span>年月</div>
<div style="position:absolute;left:20px;top:284.5px;width:0;height:0"><div style="position:absolute;left:-50px;top:-9px;width:100px;transform:rotate(-90deg);font-size:15px;line-height:18px;white-space:nowrap;text-align:center;letter-spacing:1.3px">トン換算数量</div></div>
<div style="position:absolute;left:810px;top:3.5px;font-size:17px;line-height:22px;color:#2b3332;white-space:nowrap;letter-spacing:2px;-webkit-text-stroke:0.3px #2b3332">廃棄物の種類</div>
<div class="lg" style="left:809px;top:55.3px"><i style="background:#59aaf7"></i><span>15_がれき類<b>(</b>工作<u>....</u></span></div>
<div class="lg" style="left:809px;top:88.3px"><i style="background:#4577be"></i><span>02_汚泥<b>(</b>泥状のも<u>....</u></span></div>
<div class="lg" style="left:809px;top:121.3px"><i style="background:#ae6be6"></i><span>18_ばいじん<b>(</b>工場<u>....</u></span></div>
<div class="lg" style="left:809px;top:154.3px"><i style="background:#a0246e"></i><span>06_廃プラスチック類</span></div>
<div class="lg" style="left:809px;top:187.3px"><i style="background:#d9430f"></i><span>08_木くず</span></div>
<div class="lg" style="left:809px;top:220.3px"><i style="background:#ff7433"></i><span>14_鉱さい</span></div>
<div class="lg" style="left:809px;top:253.3px"><i style="background:#ffd200"></i><span>13_ガラスくず、コ<u>....</u></span></div>
<div class="lg" style="left:809px;top:286.3px"><i style="background:#12b4a0"></i><span>01_燃え殻</span></div>
<div class="lg" style="left:809px;top:319.3px"><i style="background:#00806e"></i><span>12_金属くず</span></div>
<div class="lg" style="left:809px;top:352.3px"><i style="background:#254660"></i><span>20_建設混合廃棄物</span></div>
<div class="lg" style="left:809px;top:385.3px"><i style="background:#7fc6ff"></i><span>22_管理型混合廃棄物</span></div>
<div class="lg" style="left:809px;top:418.3px"><i style="background:#6e1b58"></i><span>10_動・植物性残渣</span></div>
<div class="lg" style="left:809px;top:451.3px"><i style="background:#ff3b9a"></i><span>03_廃油</span></div>
<div class="lg" style="left:809px;top:484.3px"><i style="background:#ff78d6"></i><span>05_廃アルカリ</span></div>
<div class="lg" style="left:809px;top:517.3px"><i style="background:#e8213a"></i><span>04_廃酸</span></div>
<div class="lg" style="left:809px;top:550.3px"><i style="background:#a33a24"></i><span>71特管_pH2.0以下<u>....</u></span></div>
<div class="lg" style="left:809px;top:583.3px"><i style="background:#f2c000"></i><span>74特管_特定有害産<u>....</u></span></div>
<div class="lg" style="left:809px;top:616.3px"><i style="background:#c29a00"></i><span>21_安定型混合廃棄物</span></div>
<div class="lg" style="left:980px;top:55.3px"><i style="background:#8fd11a"></i><span>16_動物のふん尿<b>(</b><u>....</u></span></div>
<div class="lg" style="left:980px;top:88.3px"><i style="background:#4a7e00"></i><span>73特管_感染性廃棄物</span></div>
<div class="lg" style="left:980px;top:121.3px"><i style="background:#59aaf7"></i><span>24_石綿含有産業廃<u>....</u></span></div>
<div class="lg" style="left:980px;top:154.3px"><i style="background:#4577be"></i><span>70特管_燃えやすい<u>....</u></span></div>
<div class="lg" style="left:980px;top:187.3px"><i style="background:#ae6be6"></i><span>72特管_pH12.5以<u>.....</u></span></div>
<div class="lg" style="left:980px;top:220.3px"><i style="background:#a0246e"></i><span>07_紙くず</span></div>
<div class="lg" style="left:980px;top:253.3px"><i style="background:#d9430f"></i><span>31_廃電気機械器具</span></div>
<div class="lg" style="left:980px;top:286.3px"><i style="background:#ff7433"></i><span>40_動物系固形不要物</span></div>
<div class="lg" style="left:980px;top:319.3px"><i style="background:#ffd200"></i><span>17_動物の死体<b>(</b>畜<u>....</u></span></div>
<div class="lg" style="left:980px;top:352.3px"><i style="background:#12b4a0"></i><span>36_複合材</span></div>
<div class="lg" style="left:980px;top:385.3px"><i style="background:#00806e"></i><span>23_シュレッダーダ<u>....</u></span></div>
<div class="lg" style="left:980px;top:418.3px"><i style="background:#254660"></i><span>09_繊維くず<b>(</b>天然<u>....</u></span></div>
<div class="lg" style="left:980px;top:451.3px"><i style="background:#7fc6ff"></i><span>19_処分するために<u>....</u></span></div>
<div class="lg" style="left:980px;top:484.3px"><i style="background:#6e1b58"></i><span>25_水銀使用製品産<u>....</u></span></div>
<div class="lg" style="left:980px;top:517.3px"><i style="background:#ff3b9a"></i><span>26_水銀含有ばいじ<u>....</u></span></div>
<div class="lg" style="left:980px;top:550.3px"><i style="background:#ff78d6"></i><span>35_廃電池類</span></div>
<div class="lg" style="left:980px;top:583.3px"><i style="background:#e8213a"></i><span>30_廃自動車</span></div>
<div class="lg" style="left:980px;top:616.3px"><i style="background:#a33a24"></i><span>11_ゴムくず<b>(</b>天然<u>....</u></span></div>
</body></html>
